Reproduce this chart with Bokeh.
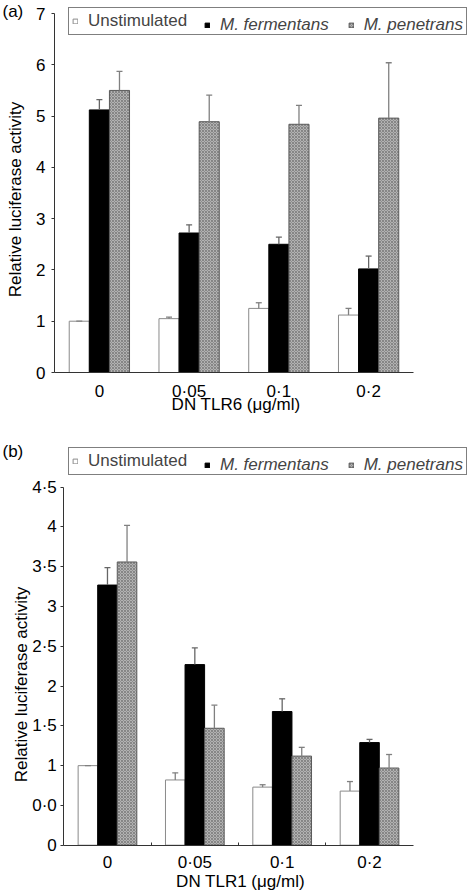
import math
from bokeh.plotting import figure
from bokeh.models import (ColumnDataSource, Range1d, FixedTicker, Whisker, TeeHead,
                          Legend, LegendItem, Label)
from bokeh.transform import dodge
from bokeh.layouts import column
from bokeh.embed import file_html
from bokeh.resources import INLINE

# ---------------- data ----------------
doses = ["0", "0·05", "0·1", "0·2"]
series_names = ["Unstimulated", "M. fermentans", "M. penetrans"]

a_unstim = [1.00, 1.05, 1.25, 1.12]
a_unstim_up = [1.00, 1.08, 1.36, 1.25]
a_ferm = [5.12, 2.72, 2.50, 2.02]
a_ferm_up = [5.32, 2.88, 2.64, 2.27]
a_pen = [5.50, 4.89, 4.84, 4.96]
a_pen_up = [5.87, 5.41, 5.21, 6.04]
a_yticks = [0, 1, 2, 3, 4, 5, 6, 7]
a_ytick_labels = ["0", "1", "2", "3", "4", "5", "6", "7"]

b_unstim = [1.00, 0.82, 0.73, 0.68]
b_unstim_up = [1.00, 0.91, 0.76, 0.80]
b_ferm = [3.27, 2.27, 1.68, 1.29]
b_ferm_up = [3.49, 2.48, 1.84, 1.33]
b_pen = [3.56, 1.47, 1.12, 0.97]
b_pen_up = [4.02, 1.76, 1.23, 1.14]
b_yticks = [0, 0.5, 1, 1.5, 2, 2.5, 3, 3.5, 4, 4.5]
b_ytick_labels = ["0", "0·0", "1", "1·5", "2", "2·5", "3", "3·5", "4", "4·5"]

y_title = "Relative luciferase activity"
FONT = "Liberation Sans"
FS = "17px"
BW = 0.224
W = 472


def make_panel(tag, xlabel, unstim, unstim_up, ferm, ferm_up, pen, pen_up,
               yticks, ylabels, ymax, height, ax_left, ax_right, ax_top, ax_bottom,
               tick_std, xl_std, ytitle_xy, xtitle_y, leg_top, tag_top, boundary_ticks):
    n = len(doses)
    xc = [i + 0.5 for i in range(n)]
    src = ColumnDataSource(dict(x=xc, unstim=unstim, unstim_up=unstim_up,
                                ferm=ferm, ferm_up=ferm_up, pen=pen, pen_up=pen_up))
    # the plotting frame covers the whole canvas; axes sit at fixed locations
    pxx = (ax_right - ax_left) / n
    pxy = (ax_bottom - ax_top) / ymax
    xr = Range1d(-ax_left / pxx, n + (W - ax_right) / pxx)
    yr = Range1d(-(height - ax_bottom) / pxy, ymax + ax_top / pxy)
    p = figure(x_range=xr, y_range=yr, width=W, height=height, output_backend="svg",
               toolbar_location=None, min_border=0)
    p.outline_line_color = None
    p.xgrid.grid_line_color = None
    p.ygrid.grid_line_color = None

    r1 = p.vbar(x=dodge("x", -BW), top="unstim", width=BW, source=src,
                fill_color="white", line_color="#8a8a8a", line_width=1)
    r2 = p.vbar(x=dodge("x", 0), top="ferm", width=BW, source=src,
                fill_color="black", line_color="black", line_width=1)
    r3 = p.vbar(x=dodge("x", BW), top="pen", width=BW, source=src,
                fill_color="#b2b2b2", line_color="#5a5a5a", line_width=1,
                hatch_pattern="diagonal_cross", hatch_color="#686868", hatch_scale=3,
                hatch_weight=0.6)

    for off, lo, up, col in [(-BW, "unstim", "unstim_up", "#808080"),
                             (0, "ferm", "ferm_up", "#666666"),
                             (BW, "pen", "pen_up", "#808080")]:
        w = Whisker(source=src, base=dodge("x", off), lower=lo, upper=up,
                    line_color=col, line_width=1.3, level="glyph",
                    upper_head=TeeHead(size=6, line_color=col, line_width=1.3),
                    lower_head=None)
        p.add_layout(w)

    # axes
    p.yaxis.fixed_location = 0
    p.xaxis.fixed_location = 0
    p.yaxis.bounds = (0, ymax)
    p.xaxis.bounds = (0, n)
    p.yaxis.ticker = FixedTicker(ticks=yticks)
    p.yaxis.major_label_overrides = {t: l for t, l in zip(yticks, ylabels)}
    p.yaxis.minor_tick_line_color = None
    p.yaxis.major_tick_out = 3
    p.yaxis.major_tick_in = 0
    p.yaxis.major_label_standoff = tick_std
    p.yaxis.major_tick_line_color = "#333333"
    p.xaxis.ticker = FixedTicker(ticks=xc,
                                 minor_ticks=list(range(1, n)) if boundary_ticks else [])
    p.xaxis.major_label_overrides = {x: d for x, d in zip(xc, doses)}
    p.xaxis.major_tick_line_color = None
    p.xaxis.minor_tick_in = 3
    p.xaxis.minor_tick_out = 0
    p.xaxis.minor_tick_line_color = "#333333"
    p.xaxis.major_label_standoff = xl_std
    for ax in (p.xaxis, p.yaxis):
        ax.axis_line_color = "#333333"
        ax.major_label_text_font = FONT
        ax.major_label_text_font_size = FS
        ax.major_label_text_color = "black"

    # axis titles
    p.add_layout(Label(x=ytitle_xy[0], y=height - ytitle_xy[1], x_units="screen",
                       y_units="screen", text=y_title, angle=math.pi / 2,
                       text_font=FONT, text_font_size=FS, text_align="center",
                       text_baseline="middle", text_color="black"))
    p.add_layout(Label(x=(ax_left + ax_right) / 2 + 2, y=height - xtitle_y, x_units="screen",
                       y_units="screen", text=xlabel,
                       text_font=FONT, text_font_size=FS, text_align="center",
                       text_baseline="middle", text_color="black"))

    # legend: framed box with the upright item, italic items laid on top
    pad = 3
    leg_h = 25
    box_l, box_r = 68, 465
    stand = 10
    legA = Legend(items=[LegendItem(label=series_names[0], renderers=[r1])],
                  location=(box_l, height - leg_top - leg_h), orientation="horizontal",
                  label_text_font=FONT, label_text_font_size=FS, label_text_font_style="normal",
                  glyph_width=6, glyph_height=6, label_standoff=stand,
                  label_width=box_r - box_l - 2 * pad - 6 - stand,
                  label_height=17, padding=pad, spacing=0, margin=0,
                  border_line_color="black", border_line_width=1,
                  background_fill_color="white", background_fill_alpha=1)
    legB = Legend(items=[LegendItem(label=series_names[1], renderers=[r2]),
                         LegendItem(label=series_names[2], renderers=[r3])],
                  location=(207 - pad, height - leg_top - leg_h), orientation="horizontal",
                  label_text_font=FONT, label_text_font_size=FS, label_text_font_style="italic",
                  glyph_width=6, glyph_height=6, label_standoff=stand, label_width=0,
                  label_height=17, padding=pad, spacing=19, margin=0,
                  border_line_color=None, background_fill_alpha=0)
    p.add_layout(legA)
    p.add_layout(legB)

    p.add_layout(Label(x=2, y=height - tag_top, x_units="screen", y_units="screen", text=tag,
                       text_font=FONT, text_font_size=FS, text_baseline="top",
                       text_align="left", text_color="black"))
    return p


p1 = make_panel("(a)", "DN TLR6 (μg/ml)", a_unstim, a_unstim_up, a_ferm, a_ferm_up,
                a_pen, a_pen_up, a_yticks, a_ytick_labels, 7,
                438, 54, 413, 13, 372, 6, 3, (15, 199), 404, 10, 1, False)
p2 = make_panel("(b)", "DN TLR1 (μg/ml)", b_unstim, b_unstim_up, b_ferm, b_ferm_up,
                b_pen, b_pen_up, b_yticks, b_ytick_labels, 4.5,
                454, 63.3, 412.7, 48.7, 406.7, 4, 2, (21, 246), 443, 12, 3, True)

layout = column(p1, p2, spacing=0)
open("out.html", "w").write(file_html(layout, INLINE))
